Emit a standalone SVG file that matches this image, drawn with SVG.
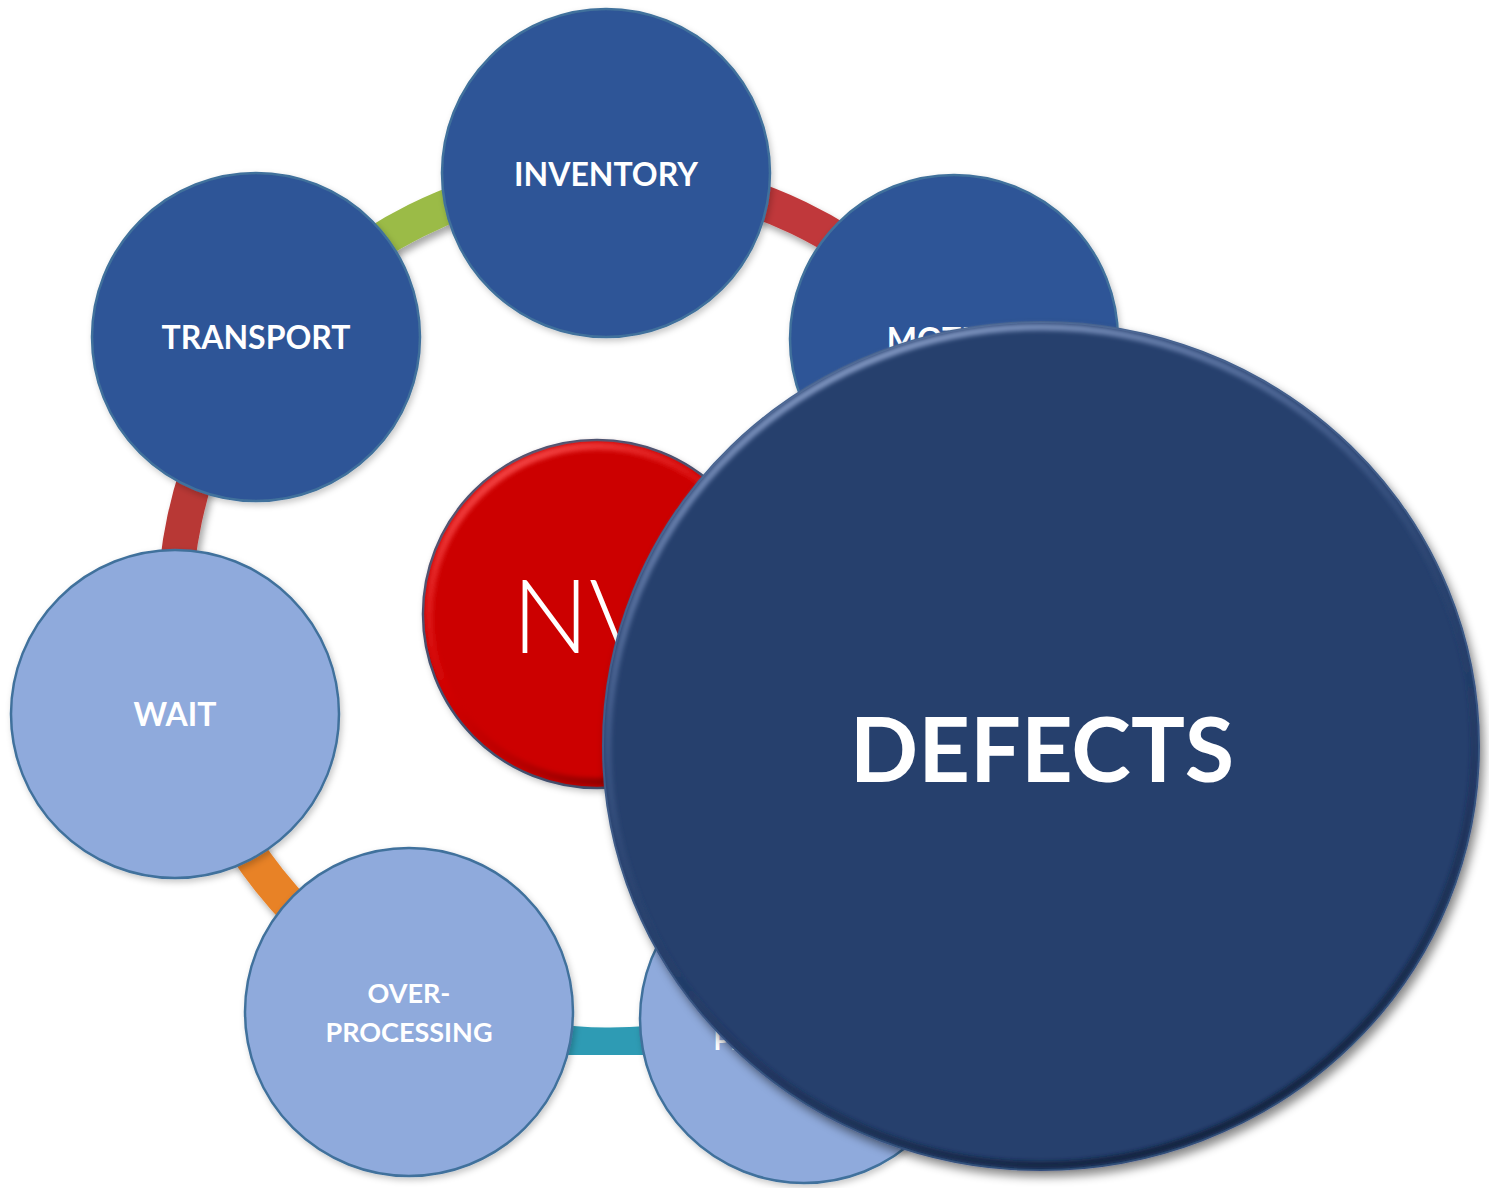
<svg xmlns="http://www.w3.org/2000/svg" width="1489" height="1188" viewBox="0 0 1489 1188">
  <defs>
    <style>
      .band { fill: none; stroke-width: 35; stroke-linecap: butt; filter: url(#bandShadow); }
      .node { stroke: #41719C; stroke-width: 2.5; filter: url(#nodeShadow); }
      .dark { fill: #2F5597; }
      .light { fill: #8FAADC; }
      .lbl { font-family: Lato, "Open Sans", "Liberation Sans", sans-serif; font-weight: 700; fill: #FFFFFF; text-anchor: middle; }
      .big { font-size: 32px; }
      .small { font-size: 27px; }
    </style>
    <filter id="bandShadow" x="-20%" y="-20%" width="140%" height="140%">
      <feDropShadow dx="3" dy="5" stdDeviation="3.5" flood-color="#000000" flood-opacity="0.35"/>
    </filter>
    <filter id="nodeShadow" x="-10%" y="-10%" width="125%" height="125%">
      <feDropShadow dx="2" dy="3" stdDeviation="3" flood-color="#000000" flood-opacity="0.22"/>
    </filter>
    <filter id="bigShadow" x="-10%" y="-10%" width="125%" height="125%">
      <feDropShadow dx="4" dy="6" stdDeviation="5" flood-color="#000000" flood-opacity="0.45"/>
    </filter>
    <filter id="soft" x="-5%" y="-5%" width="110%" height="110%">
      <feGaussianBlur stdDeviation="2.2"/>
    </filter>
    <linearGradient id="redBevel" x1="0.2" y1="0" x2="0.8" y2="1">
      <stop offset="0" stop-color="#FF5A5A" stop-opacity="0.9"/>
      <stop offset="0.45" stop-color="#E01010" stop-opacity="0.3"/>
      <stop offset="0.7" stop-color="#900000" stop-opacity="0.3"/>
      <stop offset="1" stop-color="#600000" stop-opacity="0.9"/>
    </linearGradient>
    <linearGradient id="navyBevel" x1="0.3" y1="0" x2="0.7" y2="1">
      <stop offset="0" stop-color="#8DA2CC" stop-opacity="0.95"/>
      <stop offset="0.35" stop-color="#5C76A8" stop-opacity="0.35"/>
      <stop offset="0.6" stop-color="#1A2E55" stop-opacity="0.2"/>
      <stop offset="1" stop-color="#0E1B36" stop-opacity="0.95"/>
    </linearGradient>
  </defs>

  <!-- cycle ring segments between neighbouring waste nodes -->
  <g id="connectors">
    <path class="band" stroke="#9BBB47" d="M265.3,344.6 A435,435 0 0 1 606.2,175"/>
    <path class="band" stroke="#C0393A" d="M606.2,175 A435,435 0 0 1 951.9,341"/>
    <path class="band" stroke="#B83735" d="M186.8,710.8 A435,435 0 0 1 265.3,344.6"/>
    <path class="band" stroke="#E88228" d="M415.2,999 A435,435 0 0 1 186.8,710.8"/>
    <path class="band" stroke="#2E9BB4" d="M796.6,1002.9 A435,435 0 0 1 415.2,999"/>
  </g>

  <!-- waste nodes -->
  <g id="node-inventory">
    <circle class="node dark" cx="606" cy="173" r="164"/>
    <text class="lbl big" x="606" y="186">INVENTORY</text>
  </g>
  <g id="node-motion">
    <circle class="node dark" cx="954" cy="339" r="164"/>
    <text class="lbl big" x="954" y="351">MOTION</text>
  </g>
  <g id="node-transport">
    <circle class="node dark" cx="256" cy="337" r="164"/>
    <text class="lbl big" x="256" y="349">TRANSPORT</text>
  </g>
  <g id="node-wait">
    <circle class="node light" cx="175" cy="714" r="164"/>
    <text class="lbl big" x="175" y="726">WAIT</text>
  </g>
  <g id="node-overprocessing">
    <circle class="node light" cx="409" cy="1012" r="164"/>
    <text class="lbl small" x="409" y="1003">OVER-</text>
    <text class="lbl small" x="409" y="1042">PROCESSING</text>
  </g>
  <g id="node-overproduction">
    <circle class="node light" cx="804" cy="1019" r="164"/>
    <text class="lbl small" x="804" y="1011">OVER-</text>
    <text class="lbl small" x="804" y="1050">PRODUCTION</text>
  </g>

  <!-- centre: non-value-added -->
  <g id="node-nva">
    <circle cx="597" cy="614" r="174" fill="#CC0000" stroke="#3E5575" stroke-width="2.5" filter="url(#nodeShadow)"/>
    <circle cx="597" cy="614" r="168" fill="none" stroke="url(#redBevel)" stroke-width="8" filter="url(#soft)"/>
    <text x="512" y="653" font-family="Lato, 'Open Sans', 'Liberation Sans', sans-serif" font-weight="300" font-size="102" fill="#FFFFFF">NVA</text>
  </g>

  <!-- highlighted waste -->
  <g id="node-defects">
    <ellipse cx="1041" cy="746" rx="438" ry="424" fill="#283F6D" stroke="#3D5A86" stroke-width="2" filter="url(#bigShadow)"/>
    <ellipse cx="1041" cy="746" rx="433" ry="419" fill="none" stroke="url(#navyBevel)" stroke-width="7" filter="url(#soft)"/>
    <text class="lbl" x="1042" y="782" font-size="90">DEFECTS</text>
  </g>
</svg>
